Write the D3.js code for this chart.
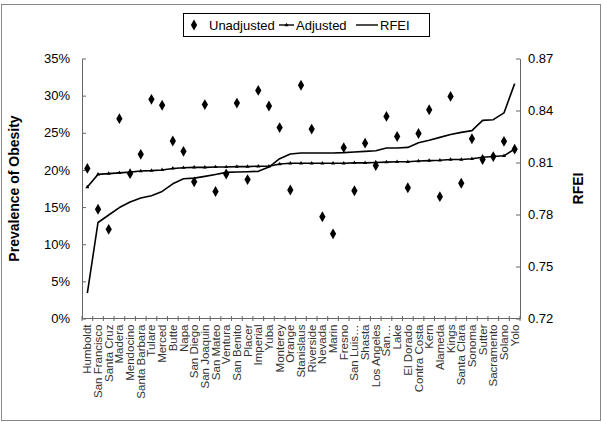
<!DOCTYPE html>
<html>
<head>
<meta charset="utf-8">
<script src="https://cdn.jsdelivr.net/npm/d3@7"></script>
<style>
  body { margin: 0; background: #fff; }
  svg { font-family: "Liberation Sans", Arial, sans-serif; }
</style>
</head>
<body>
<svg id="chart" width="602" height="422"></svg>
<script>
const counties = ["Humboldt", "San Francisco", "Santa Cruz", "Madera", "Mendocino", "Santa Barbara",
  "Tulare", "Merced", "Butte", "Napa", "San Diego", "San Joaquin", "San Mateo", "Ventura",
  "San Benito", "Placer", "Imperial", "Yuba", "Monterey", "Orange", "Stanislaus", "Riverside",
  "Nevada", "Marin", "Fresno", "San Luis\u2026", "Shasta", "Los Angeles", "San\u2026", "Lake",
  "El Dorado", "Contra Costa", "Kern", "Alameda", "Kings", "Santa Clara", "Sonoma", "Sutter",
  "Sacramento", "Solano", "Yolo"];

const unadjusted = [20.2, 14.7, 12.0, 26.9, 19.5, 22.1, 29.5, 28.7, 23.9, 22.5, 18.4,
  28.8, 17.1, 19.45, 29.0, 18.7, 30.7, 28.6, 25.7, 17.3, 31.4,
  25.5, 13.7, 11.4, 23.0, 17.2, 23.6, 20.6, 27.2, 24.5, 17.6,
  24.9, 28.1, 16.4, 29.9, 18.2, 24.2, 21.4, 21.8, 23.85, 22.8];

const adjusted = [17.7, 19.4, 19.5, 19.6, 19.7, 19.85, 19.9, 20.0, 20.2, 20.3, 20.35,
  20.35, 20.4, 20.4, 20.45, 20.45, 20.5, 20.5, 20.8, 20.9, 20.9,
  20.9, 20.9, 20.9, 20.9, 20.95, 20.95, 21.0, 21.05, 21.1, 21.1,
  21.2, 21.25, 21.3, 21.4, 21.4, 21.5, 21.7, 21.8, 21.9, 22.8];

const rfei = [0.7346, 0.7754, 0.7797, 0.7840, 0.7872, 0.7895, 0.7908, 0.7933, 0.7977, 0.8006, 0.8010,
  0.8020, 0.8031, 0.8043, 0.8045, 0.8047, 0.8049, 0.8074, 0.8122, 0.8149, 0.8155,
  0.8155, 0.8155, 0.8155, 0.8157, 0.8161, 0.8164, 0.8168, 0.8184, 0.8184, 0.8187,
  0.8214, 0.8228, 0.8245, 0.8262, 0.8274, 0.8284, 0.8343, 0.8347, 0.8386, 0.8555];

const leftTicks = [0, 5, 10, 15, 20, 25, 30, 35];
const rightTicks = [0.72, 0.75, 0.78, 0.81, 0.84, 0.87];

const margin = { top: 58.5, right: 82, bottom: 103.5, left: 82 };
const width = 602, height = 422;

const svg = d3.select("#chart");

// outer frame
svg.append("rect")
    .attr("x", 1.5).attr("y", 4.5)
    .attr("width", width - 3).attr("height", height - 6)
    .attr("fill", "none").attr("stroke", "#888");

const x = d3.scaleBand()
    .domain(counties)
    .range([margin.left, width - margin.right]);

const yL = d3.scaleLinear()
    .domain([0, 35])
    .range([height - margin.bottom, margin.top]);

const yR = d3.scaleLinear()
    .domain([0.72, 0.87])
    .range([height - margin.bottom, margin.top]);

const cx = d => x(d) + x.bandwidth() / 2;

// left axis
const leftAxis = svg.append("g")
    .attr("transform", `translate(${margin.left},0)`)
    .call(d3.axisLeft(yL).tickValues(leftTicks).tickFormat(d => d + "%").tickSizeInner(-4).tickSizeOuter(0).tickPadding(12));

// right axis
const rightAxis = svg.append("g")
    .attr("transform", `translate(${width - margin.right},0)`)
    .call(d3.axisRight(yR).tickValues(rightTicks).tickFormat(d3.format(".2f")).tickSizeInner(-4).tickSizeOuter(0).tickPadding(8));

[leftAxis, rightAxis].forEach(g => {
    g.select(".domain").attr("stroke", "#666");
    g.selectAll(".tick line").attr("stroke", "#666");
    g.selectAll(".tick text").attr("font-size", 13).attr("fill", "#000")
        .attr("font-family", "'Liberation Sans', Arial, sans-serif");
});

// bottom axis: line, boundary ticks, rotated labels
const bottom = svg.append("g");
bottom.append("line")
    .attr("x1", margin.left).attr("x2", width - margin.right)
    .attr("y1", yL(0)).attr("y2", yL(0))
    .attr("stroke", "#666");
bottom.selectAll("line.bt")
    .data(counties.concat([null]))
    .join("line")
    .attr("class", "bt")
    .attr("x1", (d, i) => margin.left + i * x.step())
    .attr("x2", (d, i) => margin.left + i * x.step())
    .attr("y1", yL(0) - 2.5).attr("y2", yL(0) + 2.5)
    .attr("stroke", "#666");
bottom.selectAll("text")
    .data(counties)
    .join("text")
    .attr("transform", d => `translate(${cx(d)},${yL(0) + 6}) rotate(-90)`)
    .attr("text-anchor", "end")
    .attr("dy", "0.35em")
    .attr("font-size", 11.5)
    .attr("fill", "#333")
    .text(d => d);

// axis titles
svg.append("text")
    .attr("transform", `translate(19,${(margin.top + height - margin.bottom) / 2}) rotate(-90)`)
    .attr("text-anchor", "middle")
    .attr("font-size", 14).attr("font-weight", "bold")
    .text("Prevalence of Obesity");

svg.append("text")
    .attr("transform", `translate(583,${(margin.top + height - margin.bottom) / 2}) rotate(-90)`)
    .attr("text-anchor", "middle")
    .attr("font-size", 14).attr("font-weight", "bold")
    .text("RFEI");

const diamond = d3.symbol().type(d3.symbolDiamond).size(34);
const tri = d3.symbol().type(d3.symbolTriangle).size(7);

// RFEI line
svg.append("path")
    .datum(rfei)
    .attr("fill", "none")
    .attr("stroke", "#000")
    .attr("stroke-width", 1.6)
    .attr("stroke-linejoin", "round")
    .attr("d", d3.line().x((d, i) => cx(counties[i])).y(d => yR(d)));

// adjusted line with markers
svg.append("path")
    .datum(adjusted)
    .attr("fill", "none")
    .attr("stroke", "#000")
    .attr("stroke-width", 1.6)
    .attr("stroke-linejoin", "round")
    .attr("d", d3.line().x((d, i) => cx(counties[i])).y(d => yL(d)));

svg.append("g").selectAll("path")
    .data(adjusted)
    .join("path")
    .attr("transform", (d, i) => `translate(${cx(counties[i])},${yL(d)})`)
    .attr("d", tri)
    .attr("fill", "#000");

// unadjusted diamonds
svg.append("g").selectAll("path")
    .data(unadjusted)
    .join("path")
    .attr("transform", (d, i) => `translate(${cx(counties[i])},${yL(d)})`)
    .attr("d", diamond)
    .attr("fill", "#000");

// legend
const lg = svg.append("g");
lg.append("rect")
    .attr("x", 183.5).attr("y", 13.5)
    .attr("width", 246).attr("height", 23)
    .attr("fill", "#fff").attr("stroke", "#000");
const ly = 25;
lg.append("path").attr("transform", `translate(194,${ly})`).attr("d", diamond).attr("fill", "#000");
lg.append("text").attr("x", 209).attr("y", ly).attr("dy", "0.35em").attr("font-size", 13).text("Unadjusted");
lg.append("line").attr("x1", 279).attr("x2", 294).attr("y1", ly).attr("y2", ly).attr("stroke", "#000").attr("stroke-width", 1.4);
lg.append("path").attr("transform", `translate(286.5,${ly})`).attr("d", tri).attr("fill", "#000");
lg.append("text").attr("x", 296).attr("y", ly).attr("dy", "0.35em").attr("font-size", 13).text("Adjusted");
lg.append("line").attr("x1", 356).attr("x2", 378).attr("y1", ly).attr("y2", ly).attr("stroke", "#000").attr("stroke-width", 1.4);
lg.append("text").attr("x", 380).attr("y", ly).attr("dy", "0.35em").attr("font-size", 13).text("RFEI");
</script>
</body>
</html>
